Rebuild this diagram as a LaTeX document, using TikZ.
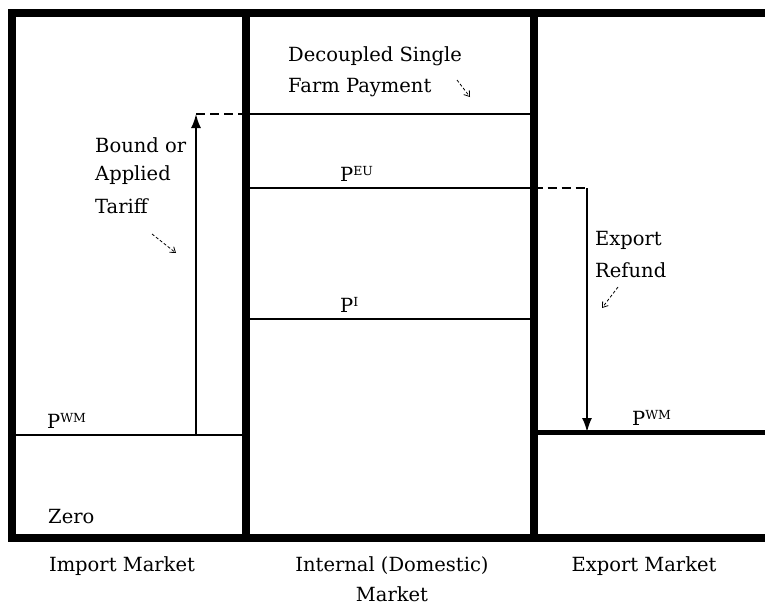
\documentclass[tikz,border=0pt]{standalone}
\usepackage{fontspec}
\setmainfont{DejaVu Serif}
\usetikzlibrary{arrows.meta}
\newcommand{\psupx}[1]{P\raisebox{0.27em}{\fontsize{12.5}{12.5}\selectfont #1}}
\begin{document}
\begin{tikzpicture}[x=1pt,y=-1pt,
  thickframe/.style={line width=8pt},
  thinline/.style={line width=2pt},
  lbl/.style={font=\fontsize{19.5}{19.5}\selectfont, inner sep=0pt, anchor=west},
  clbl/.style={font=\fontsize{19.5}{19.5}\selectfont, inner sep=0pt, anchor=center},
  hint/.style={densely dashed, line width=0.8pt, -{Straight Barb[length=5pt,width=7pt]}},
  bigarrow/.style={line width=1.8pt, -{Latex[length=14pt,width=10pt]}}
]
\useasboundingbox (0,0) rectangle (765,605);
% frame coordinates
\coordinate (tl) at (11.5,12.5);
\coordinate (bl) at (11.5,538);
\coordinate (tr) at (765,12.5);
\coordinate (br) at (765,538);
\coordinate (d1t) at (246,12.5);
\coordinate (d1b) at (246,538);
\coordinate (d2t) at (533.5,12.5);
\coordinate (d2b) at (533.5,538);
% internal lines
\coordinate (impL) at (11.5,435);
\coordinate (impR) at (246,435);
\coordinate (tarB) at (196,435);
\coordinate (tarT) at (196,114);
\coordinate (sfpL) at (246,114);
\coordinate (sfpR) at (533.5,114);
\coordinate (euL) at (246,188);
\coordinate (euR) at (533.5,188);
\coordinate (refT) at (587,188);
\coordinate (refB) at (587,432);
\coordinate (piL) at (246,319);
\coordinate (piR) at (533.5,319);
\coordinate (expL) at (533.5,432);
\coordinate (expR) at (765,432);

\draw[thinline] (impL) -- (impR);
\draw[thinline] (sfpL) -- (sfpR);
\draw[thinline] (euL) -- (euR);
\draw[thinline] (piL) -- (piR);
\draw[line width=5pt] (expL) -- (expR);
\draw[bigarrow] (tarB) -- (tarT);
\draw[thinline, dash pattern=on 9pt off 5pt] (tarT) -- (sfpL);
\draw[thinline, dash pattern=on 9pt off 5pt] (euR) -- (refT);
\draw[bigarrow] (refT) -- (refB);

\draw[thickframe] (tr) -- (tl) -- (bl) -- (br);
\draw[thickframe] (d1t) -- (d1b);
\draw[thickframe] (d2t) -- (d2b);

% labels
\node[lbl] (dec1) at (288,56) {Decoupled Single};
\node[lbl] (dec2) at (288,88) {Farm Payment};
\coordinate (h1a) at (457,80);
\coordinate (h1b) at (470,97);
\draw[hint] (h1a) -- (h1b);

\node[lbl] (bo1) at (95,145) {Bound or};
\node[lbl] (bo2) at (95,175) {Applied};
\node[lbl] (bo3) at (95,206) {Tariff};
\coordinate (h2a) at (152,234);
\coordinate (h2b) at (176,253);
\draw[hint] (h2a) -- (h2b);

\node[lbl] (peu) at (340,174) {\psupx{EU}};
\node[lbl] (pi) at (340,305) {\psupx{I}};
\node[lbl] (pwm1) at (47,421) {\psupx{WM}};
\node[lbl] (zero) at (48,517) {Zero};
\node[lbl] (pwm2) at (632,418) {\psupx{WM}};

\node[lbl] (ex1) at (595,240) {Export};
\node[lbl] (ex2) at (595,270) {Refund};
\coordinate (h3a) at (618,287);
\coordinate (h3b) at (602,308);
\draw[hint] (h3a) -- (h3b);

\node[clbl] (m1) at (122,566) {Import Market};
\node[clbl] (m2) at (392,566) {Internal (Domestic)};
\node[clbl] (m2b) at (392,594) {Market};
\node[clbl] (m3) at (644,566) {Export Market};
\end{tikzpicture}
\end{document}
